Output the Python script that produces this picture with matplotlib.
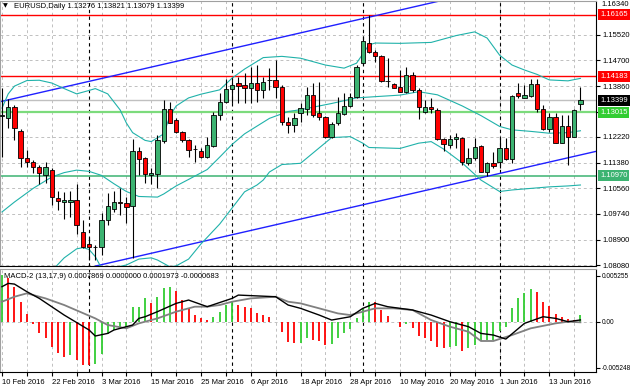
import numpy as np
import pandas as pd
import matplotlib
matplotlib.use("Agg")
import matplotlib.pyplot as plt

plt.rcParams['font.family'] = ['Liberation Sans', 'DejaVu Sans']

# ---- data ----
dates = pd.bdate_range('2016-02-10', '2016-06-20')

opens = [1.1290, 1.1282, 1.1320, 1.1241, 1.1153, 1.1140, 1.1124, 1.1099, 1.1115, 1.1026,
         1.1011, 1.1013, 1.1019, 1.0916, 1.0877, 1.0868, 1.0868, 1.0954, 1.0990, 1.1011,
         1.1010, 1.0999, 1.1177, 1.1153, 1.1099, 1.1102, 1.1210, 1.1312, 1.1277, 1.1237,
         1.1212, 1.1183, 1.1178, 1.1156, 1.1193, 1.1293, 1.1336, 1.1376, 1.1397, 1.1390,
         1.1379, 1.1395, 1.1374, 1.1406, 1.1406, 1.1384, 1.1271, 1.1261, 1.1300, 1.1311,
         1.1357, 1.1298, 1.1285, 1.1221, 1.1266, 1.1295, 1.1322, 1.1350, 1.1460, 1.1526,
         1.1495, 1.1483, 1.1403, 1.1392, 1.1384, 1.1368, 1.1422, 1.1374, 1.1302, 1.1318,
         1.1309, 1.1215, 1.1196, 1.1215, 1.1218, 1.1139, 1.1153, 1.1193, 1.1110, 1.1137,
         1.1142, 1.1185, 1.1150, 1.1365, 1.1349, 1.1354, 1.1392, 1.1311, 1.1247, 1.1287,
         1.1204, 1.1257, 1.1223, 1.13276]
highs = [1.1380, 1.1344, 1.1325, 1.1248, 1.1180, 1.1148, 1.1132, 1.1142, 1.1121, 1.1048,
         1.1045, 1.1048, 1.1070, 1.0954, 1.0900, 1.0874, 1.0976, 1.1040, 1.1049, 1.1056,
         1.1029, 1.1215, 1.1189, 1.1158, 1.1121, 1.1228, 1.1341, 1.1336, 1.1282, 1.1242,
         1.1215, 1.1196, 1.1185, 1.1223, 1.1304, 1.1363, 1.1408, 1.1411, 1.1416, 1.1427,
         1.1449, 1.1454, 1.1416, 1.1444, 1.1470, 1.1390, 1.1287, 1.1298, 1.1331, 1.1384,
         1.1395, 1.1400, 1.1291, 1.1271, 1.1352, 1.1363, 1.1363, 1.1454, 1.1548, 1.1616,
         1.1503, 1.1486, 1.1476, 1.1395, 1.1438, 1.1449, 1.1433, 1.1379, 1.1341, 1.1347,
         1.1315, 1.1218, 1.1228, 1.1234, 1.1223, 1.1185, 1.1218, 1.1196, 1.1142, 1.1175,
         1.1223, 1.1218, 1.1357, 1.1395, 1.1390, 1.1408, 1.1408, 1.1325, 1.1298, 1.1298,
         1.1293, 1.1293, 1.1311, 1.13821]
lows = [1.1157, 1.1250, 1.1212, 1.1124, 1.1124, 1.1105, 1.1070, 1.1073, 1.1003, 1.0986,
        1.0956, 1.0965, 1.0909, 1.0863, 1.0825, 1.0825, 1.0841, 1.0938, 1.0981, 1.0970,
        1.0944, 1.0832, 1.1099, 1.1073, 1.1070, 1.1056, 1.1202, 1.1266, 1.1235, 1.1207,
        1.1158, 1.1142, 1.1153, 1.1153, 1.1191, 1.1277, 1.1331, 1.1331, 1.1331, 1.1331,
        1.1331, 1.1336, 1.1347, 1.1374, 1.1347, 1.1261, 1.1234, 1.1239, 1.1271, 1.1293,
        1.1287, 1.1277, 1.1218, 1.1218, 1.1261, 1.1293, 1.1320, 1.1347, 1.1454, 1.1492,
        1.1465, 1.1400, 1.1384, 1.1379, 1.1368, 1.1363, 1.1368, 1.1279, 1.1298, 1.1298,
        1.1212, 1.1177, 1.1185, 1.1185, 1.1132, 1.1132, 1.1148, 1.1108, 1.1096, 1.1121,
        1.1121, 1.1148, 1.1137, 1.1347, 1.1347, 1.1352, 1.1304, 1.1245, 1.1239, 1.1202,
        1.1202, 1.1132, 1.1221, 1.13079]
closes = [1.1293, 1.1320, 1.1250, 1.1153, 1.1142, 1.1124, 1.1105, 1.1126, 1.1029, 1.1015,
          1.1018, 1.1020, 1.0938, 1.0868, 1.0866, 1.0866, 1.0954, 1.1000, 1.1011, 1.1008,
          1.0997, 1.1178, 1.1150, 1.1102, 1.1105, 1.1212, 1.1312, 1.1268, 1.1239, 1.1212,
          1.1180, 1.1182, 1.1158, 1.1196, 1.1293, 1.1336, 1.1377, 1.1390, 1.1386, 1.1379,
          1.1395, 1.1374, 1.1400, 1.1406, 1.1384, 1.1271, 1.1261, 1.1282, 1.1315, 1.1356,
          1.1293, 1.1285, 1.1221, 1.1264, 1.1298, 1.1322, 1.1350, 1.1449, 1.1532, 1.1497,
          1.1483, 1.1403, 1.1403, 1.1381, 1.1368, 1.1422, 1.1374, 1.1318, 1.1318, 1.1311,
          1.1215, 1.1199, 1.1215, 1.1223, 1.1142, 1.1153, 1.1191, 1.1110, 1.1137, 1.1128,
          1.1185, 1.1150, 1.1354, 1.1354, 1.1357, 1.1392, 1.1311, 1.1247, 1.1287, 1.1204,
          1.1257, 1.1223, 1.1309, 1.13399]

# Bollinger bands, sampled along the lines
bb_up_idx = [0, 1, 2, 4, 6, 8, 10, 12, 14, 15, 17, 19, 20, 21, 23, 24, 26, 27, 28, 30, 32, 35,
             37, 39, 42, 45, 48, 52, 55, 57, 59, 60, 64, 69, 73, 76, 78, 80, 82, 84, 86, 88, 91, 93]
bb_up = [1.1315, 1.1361, 1.1386, 1.1404, 1.1405, 1.1396, 1.1378, 1.1361, 1.1372, 1.1378, 1.1361,
         1.1309, 1.1267, 1.1236, 1.1211, 1.1207, 1.1232, 1.1290, 1.1322, 1.1348, 1.1360, 1.1374,
         1.1412, 1.1441, 1.1478, 1.1482, 1.1476, 1.1454, 1.1444, 1.1460, 1.1519, 1.1525, 1.1524,
         1.1527, 1.1549, 1.1561, 1.1541, 1.1486, 1.1454, 1.1438, 1.1424, 1.1406, 1.1403, 1.1411]
bb_mid_idx = [0, 2, 5, 8, 10, 12, 14, 16, 18, 20, 22, 25, 26, 28, 30, 33, 35, 37, 39, 41, 43, 46,
              48, 53, 57, 60, 64, 67, 70, 74, 77, 80, 82, 85, 88, 91, 93]
bb_mid = [1.0980, 1.1012, 1.1056, 1.1093, 1.1107, 1.1115, 1.1111, 1.1098, 1.1071, 1.1046, 1.1030,
          1.1028, 1.1038, 1.1064, 1.1085, 1.1117, 1.1157, 1.1198, 1.1232, 1.1257, 1.1282, 1.1304,
          1.1310, 1.1330, 1.1348, 1.1352, 1.1357, 1.1368, 1.1358, 1.1322, 1.1291, 1.1256, 1.1245,
          1.1240, 1.1234, 1.1236, 1.1242]
bb_low_idx = [0, 4, 6, 8, 10, 12, 13, 14, 15, 16, 18, 20, 22, 24, 25, 27, 28, 30, 32, 35, 37, 39,
              41, 42, 43, 45, 48, 53, 56, 58, 59, 64, 67, 69, 71, 74, 77, 80, 82, 85, 88, 91, 93]
bb_low = [1.0645, 1.0667, 1.0726, 1.0790, 1.0832, 1.0861, 1.0865, 1.0859, 1.0836, 1.0799, 1.0800,
          1.0809, 1.0828, 1.0832, 1.0825, 1.0803, 1.0806, 1.0828, 1.0877, 1.0941, 1.0993, 1.1045,
          1.1067, 1.1083, 1.1109, 1.1133, 1.1137, 1.1220, 1.1223, 1.1202, 1.1188, 1.1185, 1.1202,
          1.1207, 1.1183, 1.1138, 1.1083, 1.1046, 1.1051, 1.1056, 1.1061, 1.1064, 1.1067]

# MACD-2 (13,17,9)
macd_hist = [0.00535, 0.00496, 0.00401, 0.00221, 0.00084, -0.00031, -0.00134, -0.00183, -0.00286,
             -0.00363, -0.00401, -0.00382, -0.00439, -0.00496, -0.00500, -0.00490, -0.00374,
             -0.00145, -0.00095, -0.00076, -0.00057, 0.00164, 0.00170, 0.00267, 0.00210, 0.00286,
             0.00389, 0.00392, 0.00351, 0.00248, 0.00153, 0.00076, 0.00038, 0.00019, 0.00057,
             0.00115, 0.00191, 0.00229, 0.00191, 0.00172, 0.00153, 0.00095, 0.00076, 0.00057,
             0.0, -0.00115, -0.00229, -0.00248, -0.00245, -0.00183, -0.00210, -0.00221, -0.00267,
             -0.00256, -0.00183, -0.00134, -0.00084, 0.00038, 0.00153, 0.00229, 0.00225, 0.00134,
             0.00069, 0.0, -0.00057, -0.00031, -0.00076, -0.00160, -0.00183, -0.00221, -0.00286,
             -0.00300, -0.00290, -0.00280, -0.00336, -0.00305, -0.00267, -0.00221, -0.00215,
             -0.00210, -0.00107, -0.00057, 0.00153, 0.00267, 0.00325, 0.00374, 0.00344, 0.00229,
             0.00183, 0.00084, 0.00057, 0.00031, 0.00019, 0.00079]
macd_idx = [0, 1, 2, 4, 6, 10, 14, 15, 17, 18, 21, 22, 23, 25, 28, 30, 33, 37, 38, 44, 46, 48, 51,
            53, 56, 58, 60, 62, 66, 69, 72, 75, 77, 79, 81, 84, 87, 89, 91, 93]
macd_main = [0.00401, 0.00439, 0.00431, 0.00344, 0.00267, 0.00076, -0.00095, -0.00164, -0.00134,
             -0.00095, -0.00038, 0.00038, 0.00057, 0.00115, 0.00210, 0.00248, 0.00172, 0.00267,
             0.00305, 0.00286, 0.00191, 0.00153, 0.00076, 0.00019, 0.00057, 0.00153, 0.00210,
             0.00172, 0.00134, 0.00076, 0.0, -0.00057, -0.00134, -0.00153, -0.00199, -0.00019,
             0.00057, 0.00038, 0.0, 0.00020]
sig_idx = [0, 2, 4, 7, 10, 15, 17, 20, 22, 25, 28, 31, 33, 35, 37, 40, 44, 46, 48, 51, 54, 56, 60,
           63, 66, 69, 72, 75, 77, 79, 82, 85, 89, 91, 93]
macd_signal = [0.00229, 0.00286, 0.00325, 0.00267, 0.00191, 0.00038, -0.00038, -0.00076, -0.00019,
               0.00038, 0.00115, 0.00172, 0.00172, 0.00191, 0.00229, 0.00267, 0.00286, 0.00229,
               0.00210, 0.00153, 0.00095, 0.00076, 0.00153, 0.00153, 0.00134, 0.00019, -0.00057,
               -0.00115, -0.00221, -0.00221, -0.00153, -0.00076, -0.00019, 0.0, -0.00007]

red_levels = [1.16165, 1.14183]
green_level_hi = 1.13015
green_level_lo = 1.10970
last_price = 1.13399
channel_up = [(0, 1.1337), (70, 1.1659)]
channel_dn = [(16, 1.0810), (93, 1.1164)]
month_starts = [14, 37, 58, 80]
price_ticks = [1.08080, 1.08900, 1.09740, 1.10560, 1.11380, 1.12220, 1.13040, 1.13860, 1.14700, 1.15520]
hidden_ticks = [1.13040]  # label sits under the green price tag
macd_ticks = [0.005255, 0.0, -0.005248]
macd_tick_labels = ['0.005255', '0.00', '-0.005248']

# ---- figure ----
W, H = 630, 388
fig = plt.figure(figsize=(W / 100, H / 100), dpi=100)


def box(x0, y0, x1, y1):
    return [x0 / W, 1 - y1 / H, (x1 - x0) / W, (y1 - y0) / H]


ax = fig.add_axes(box(0, 1, 596, 266))
mx = fig.add_axes(box(0, 269, 596, 372))
idx = np.arange(len(closes))
fs = 5.5
grid_kw = dict(color='#C0C0C0', ls=(0, (3, 3)), lw=0.7)

for a in (ax, mx):
    a.set_xlim(-0.32, 95.5)
    a.set_xticks(np.arange(0, len(closes), 4))
    a.grid(True, axis='x', **grid_kw)
    a.set_axisbelow(True)
    for s in ('left', 'top'):
        a.spines[s].set_color('#A0A0A0')
    for s in ('right', 'bottom'):
        a.spines[s].set_color('black')
    for m in month_starts:
        a.axvline(m, color='black', ls=(0, (3, 3)), lw=0.8, zorder=1)

# main price panel
ax.set_ylim(1.08057, 1.16606)
ax.yaxis.tick_right()
ax.set_yticks(price_ticks)
ax.set_yticklabels(['' if t in hidden_ticks else '%.5f' % t for t in price_ticks])
ax.grid(True, axis='y', **grid_kw)
ax.tick_params(axis='y', direction='out', length=3, width=0.8, labelsize=fs, pad=2)
ax.tick_params(axis='x', length=0, labelbottom=False)

ax.axhline(last_price, color='#C0C0C0', lw=1, zorder=1)
for lv in red_levels:
    ax.axhline(lv, color='#FF0000', lw=1, zorder=2)
ax.axhline(green_level_hi, color='#7CDB7C', lw=1.6, zorder=2)
ax.axhline(green_level_lo, color='#3CB371', lw=1.1, zorder=2)
ax.axline(channel_up[0], channel_up[1], color='#2020FF', lw=1, zorder=2)
ax.axline(channel_dn[0], channel_dn[1], color='#2020FF', lw=1, zorder=2)

ax.plot(bb_up_idx, bb_up, color='#20B2AA', lw=0.8, zorder=2)
ax.plot(bb_mid_idx, bb_mid, color='#20B2AA', lw=0.8, zorder=2)
ax.plot(bb_low_idx, bb_low, color='#20B2AA', lw=0.8, zorder=2)

o = np.array(opens)
c = np.array(closes)
body_col = np.where(c >= o, '#3CB371', '#FF0000')
ax.vlines(idx, lows, highs, color='black', lw=0.8, zorder=3)
ax.bar(idx, np.abs(c - o), bottom=np.minimum(o, c), width=0.7, color=body_col,
       edgecolor='black', linewidth=0.6, zorder=4)

# price tags on the right scale
yt = ax.get_yaxis_transform()
tag_kw = dict(transform=yt, fontsize=fs, color='white', va='center', ha='left', clip_on=False, zorder=10)
for lv in red_levels:
    ax.text(1.0067, lv, '%.5f' % lv, bbox=dict(boxstyle='square,pad=0.25', fc='#FF0000', ec='none'), **tag_kw)
ax.text(1.0067, last_price, '%.5f' % last_price, bbox=dict(boxstyle='square,pad=0.25', fc='black', ec='none'), **tag_kw)
ax.text(1.0067, green_level_hi, '%.5f' % green_level_hi, bbox=dict(boxstyle='square,pad=0.25', fc='#32CD32', ec='none'), **tag_kw)
ax.text(1.0067, green_level_lo, '%.5f' % green_level_lo, bbox=dict(boxstyle='square,pad=0.25', fc='#3CB371', ec='none'), **tag_kw)
fig.text(601 / W, 1 - 4 / H, '1.16340', fontsize=fs, va='center', ha='left')

fig.text(3 / W, 1 - 6 / H, '\u25bc', fontsize=4.5, va='center', ha='left', family='DejaVu Sans')
fig.text(14 / W, 1 - 6 / H, 'EURUSD,Daily %.5f %.5f %.5f %.5f' % (opens[-1], highs[-1], lows[-1], closes[-1]),
         fontsize=fs, va='center', ha='left')

# MACD panel
mx.set_ylim(-0.005762, 0.006037)
mx.yaxis.tick_right()
mx.set_yticks(macd_ticks)
mx.set_yticklabels(macd_tick_labels)
mx.axhline(0, **grid_kw, zorder=1)
mx.tick_params(axis='y', direction='out', length=3, width=0.8, labelsize=4.7, pad=1)
h = np.array(macd_hist)
hist_col = ['#32CD32' if i == 0 or h[i] >= h[i - 1] else '#FF0000' for i in range(len(h))]
mx.vlines(idx, 0, h, colors=hist_col, lw=1.3, zorder=2)
mx.plot(sig_idx, macd_signal, color='#808080', lw=1.3, zorder=3)
mx.plot(macd_idx, macd_main, color='black', lw=1.0, zorder=4)
mx.text(0.007, 0.93, 'MACD-2 (13,17,9) 0.0007869 0.0000000 0.0001973 -0.0000683',
        transform=mx.transAxes, fontsize=fs, va='center', ha='left')

xt = np.arange(0, len(closes), 4)
mx.set_xticklabels(['%d %s' % (dates[i].day, dates[i].strftime('%b %Y')) if i % 8 == 0 else '' for i in xt])
for lab in mx.get_xticklabels():
    lab.set_ha('left')
mx.tick_params(axis='x', direction='out', length=3, width=0.8, labelsize=fs, pad=2)

fig.savefig('out.png', dpi=100)
